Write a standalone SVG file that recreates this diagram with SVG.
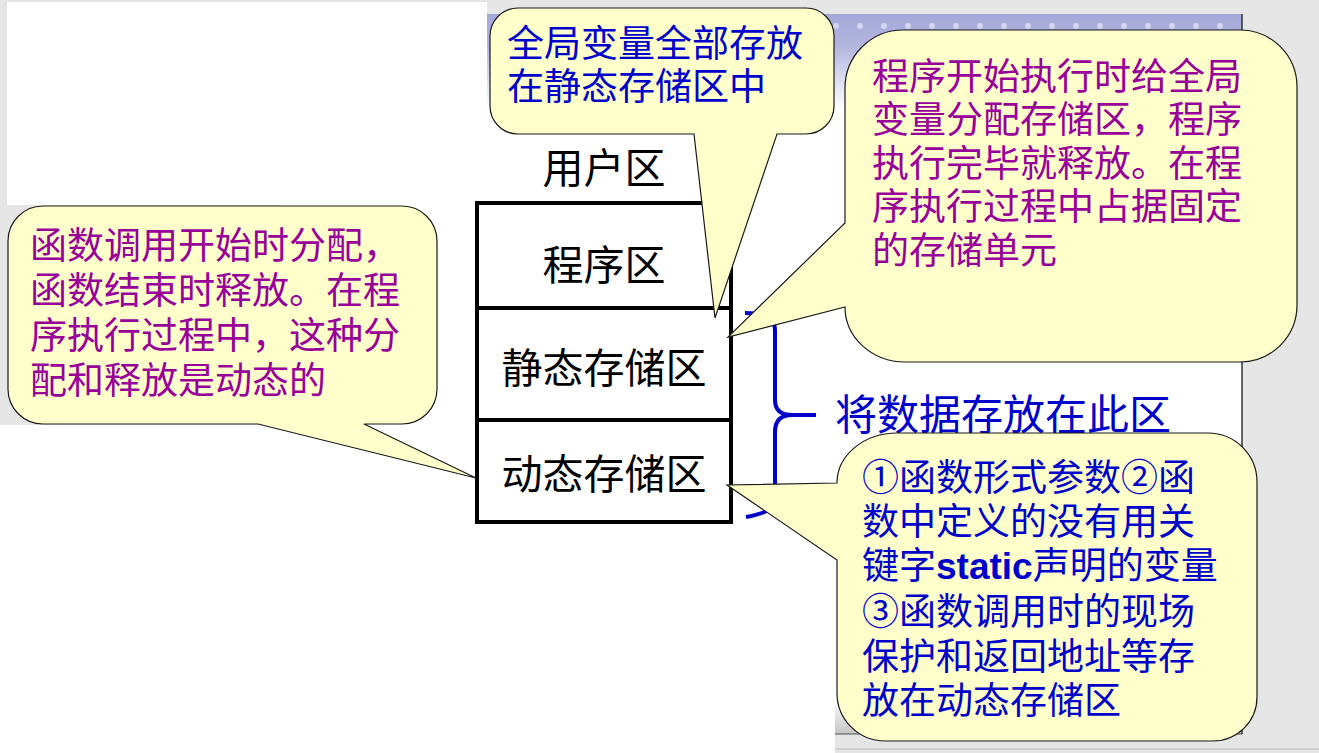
<svg xmlns="http://www.w3.org/2000/svg" width="1319" height="753" viewBox="0 0 1319 753">
<defs>
<linearGradient id="hdr" x1="0" y1="0" x2="0" y2="1">
<stop offset="0" stop-color="#a3a7d8"/>
<stop offset="0.35" stop-color="#b4b7df"/>
<stop offset="1" stop-color="#ffffff"/>
</linearGradient>
<linearGradient id="shd" x1="0" y1="0" x2="0" y2="1">
<stop offset="0" stop-color="#ffffff"/>
<stop offset="1" stop-color="#c4c4c4"/>
</linearGradient>
<style>
.co{fill:#ffffcc;stroke:#1a1a1a;stroke-width:1.2}
.cjk{font-family:"Liberation Sans","Noto Sans CJK SC",sans-serif}
.blue{fill:#0000cc;font-size:37px}
.purp{fill:#990099;font-size:37px}
.lbl{fill:#000;font-size:41px;text-anchor:middle}
.mem{fill:#fff;stroke:#000;stroke-width:4}
.brace{fill:none;stroke:#0000cc;stroke-width:4;stroke-linecap:butt}
.dot{fill:#d4d5f0}
</style>
</defs>
<!-- background -->
<rect width="1319" height="753" fill="#e6e6e6"/>
<rect x="7" y="2" width="480" height="203" fill="#fff"/>
<rect x="0" y="205" width="835" height="548" fill="#fff"/>
<rect x="0" y="205" width="280" height="220" fill="#e6e6e6"/>
<rect x="487" y="14" width="755" height="720" fill="#fff"/>
<rect x="487" y="14" width="755" height="95" fill="url(#hdr)"/>
<rect x="835" y="700" width="407" height="34" fill="url(#shd)"/>
<line x1="1242" y1="14" x2="1242" y2="734" stroke="#333" stroke-width="1.5"/>
<line x1="835" y1="734" x2="1242" y2="734" stroke="#555" stroke-width="1"/>
<line x1="835" y1="749" x2="1319" y2="749" stroke="#cfcfcf" stroke-width="2"/>
<g id="dots">
<circle class="dot" cx="500" cy="26" r="3"/><circle class="dot" cx="524" cy="26" r="3"/><circle class="dot" cx="548" cy="26" r="3"/><circle class="dot" cx="572" cy="26" r="3"/><circle class="dot" cx="596" cy="26" r="3"/><circle class="dot" cx="620" cy="26" r="3"/><circle class="dot" cx="644" cy="26" r="3"/><circle class="dot" cx="668" cy="26" r="3"/><circle class="dot" cx="692" cy="26" r="3"/><circle class="dot" cx="716" cy="26" r="3"/><circle class="dot" cx="740" cy="26" r="3"/><circle class="dot" cx="764" cy="26" r="3"/><circle class="dot" cx="788" cy="26" r="3"/><circle class="dot" cx="812" cy="26" r="3"/><circle class="dot" cx="836" cy="26" r="3"/><circle class="dot" cx="860" cy="26" r="3"/><circle class="dot" cx="884" cy="26" r="3"/><circle class="dot" cx="908" cy="26" r="3"/><circle class="dot" cx="932" cy="26" r="3"/><circle class="dot" cx="956" cy="26" r="3"/><circle class="dot" cx="980" cy="26" r="3"/><circle class="dot" cx="1004" cy="26" r="3"/><circle class="dot" cx="1028" cy="26" r="3"/><circle class="dot" cx="1052" cy="26" r="3"/><circle class="dot" cx="1076" cy="26" r="3"/><circle class="dot" cx="1100" cy="26" r="3"/><circle class="dot" cx="1124" cy="26" r="3"/><circle class="dot" cx="1148" cy="26" r="3"/><circle class="dot" cx="1172" cy="26" r="3"/><circle class="dot" cx="1196" cy="26" r="3"/><circle class="dot" cx="1220" cy="26" r="3"/>
</g>

<!-- memory layout -->
<g id="user-area">
<text class="cjk lbl" x="604" y="183">用户区</text>
</g>
<g id="program-area">
<rect class="mem" x="477" y="203" width="254" height="105"/>
<text class="cjk lbl" x="604" y="280">程序区</text>
</g>
<g id="static-area">
<rect class="mem" x="477" y="308" width="254" height="112"/>
<text class="cjk lbl" x="604" y="383">静态存储区</text>
</g>
<g id="dynamic-area">
<rect class="mem" x="477" y="420" width="254" height="102"/>
<text class="cjk lbl" x="604" y="489">动态存储区</text>
</g>

<g id="connectors">
<path class="brace" d="M745,313 Q775,313 775,330 V400 Q775,415 792,415 H816 M792,415 Q775,415 775,432 V500 Q775,512 746,517"/>
</g>
<g id="data-label">
<text class="cjk" x="835" y="430" fill="#0000cc" font-size="42">将数据存放在此区</text>
</g>

<!-- callouts -->
<g id="callout-global">
<path class="co" d="M518,8 H806 A28,28 0 0 1 834,36 V106 A28,28 0 0 1 806,134 H777 L715,318 L694,134 H518 A28,28 0 0 1 490,106 V36 A28,28 0 0 1 518,8 Z"/>
<text class="cjk blue" x="507"><tspan x="507" y="57">全局变量全部存放</tspan><tspan x="507" y="100">在静态存储区中</tspan></text>
</g>
<g id="callout-static">
<path class="co" d="M903,30 H1240 A57,57 0 0 1 1297,87 V305 A57,57 0 0 1 1240,362 H905 A60,55 0 0 1 845,307 L728,337 L845,223 V88 A58,58 0 0 1 903,30 Z"/>
<text class="cjk purp"><tspan x="872" y="90">程序开始执行时给全局</tspan><tspan x="872" y="133">变量分配存储区，程序</tspan><tspan x="872" y="177">执行完毕就释放。在程</tspan><tspan x="872" y="220">序执行过程中占据固定</tspan><tspan x="872" y="264">的存储单元</tspan></text>
</g>
<g id="callout-dynamic">
<path class="co" d="M43,206 H402 A35,35 0 0 1 437,241 V389 A35,35 0 0 1 402,424 H364 L476,478 L258,424 H43 A35,35 0 0 1 8,389 V241 A35,35 0 0 1 43,206 Z"/>
<text class="cjk purp"><tspan x="30" y="259">函数调用开始时分配，</tspan><tspan x="30" y="304">函数结束时释放。在程</tspan><tspan x="30" y="349">序执行过程中，这种分</tspan><tspan x="30" y="394">配和释放是动态的</tspan></text>
</g>
<g id="callout-stack">
<path class="co" d="M897,433 H1208 A49,49 0 0 1 1257,482 V697 A44,44 0 0 1 1213,741 H885 A48,48 0 0 1 837,693 V560 L727,485 L837,483 A60,50 0 0 1 897,433 Z"/>
<text class="cjk blue"><tspan x="862" y="491">①函数形式参数②函</tspan><tspan x="862" y="535">数中定义的没有用关</tspan><tspan x="862" y="579">键字<tspan font-weight="bold">static</tspan>声明的变量</tspan><tspan x="862" y="625">③函数调用时的现场</tspan><tspan x="862" y="670">保护和返回地址等存</tspan><tspan x="862" y="714">放在动态存储区</tspan></text>
</g>
</svg>
